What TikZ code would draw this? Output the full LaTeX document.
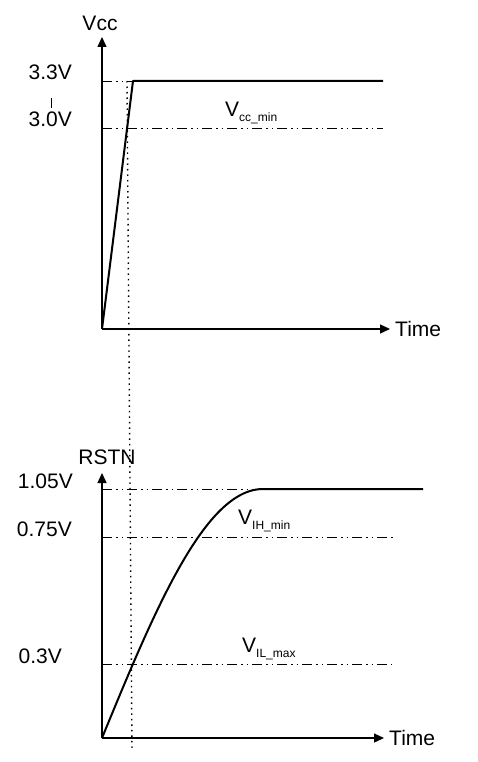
\documentclass[tikz,border=0pt]{standalone}
\usepackage{fontspec}
\setmainfont{Liberation Sans}
\usetikzlibrary{
	arrows.meta,
	positioning,
	calc
}

\begin{document}
\begin{tikzpicture}[x=1pt, y=-1pt,
  nivel/.style={line width=0.9pt,
    dash pattern=on 10pt off 4pt on 1.5pt off 4pt on 1.5pt off 4pt},
  eje/.style={-{Triangle[length=10pt,width=9pt]}, line width=1.3pt},
  senal/.style={line width=2pt, line join=round},
  guia/.style={line width=1.4pt, dash pattern=on 1.5pt off 4pt},
  rotulo/.style={inner sep=0pt, font=\fontsize{21}{24}\selectfont},
  umbral/.style={rotulo, anchor=base west}
]
\useasboundingbox (0,0) rectangle (477,762);

% Vcc
\coordinate (o1) at (102,329);
\coordinate (y1) at (102,37);
\coordinate (x1) at (390,329);
\foreach \y/\xf/\texto/\xl in {
  81/383/3.3V/72,
  128/383/3.0V/72,
  489/383/1.05V/73,
  537/393/0.75V/72,
  664/392/0.3V/62}
{
  \draw[nivel] (102,\y) -- (\xf,\y);
  \node[rotulo, anchor=base east] (lv\y) at (\xl,\y-1) {\texto};
}
\draw (51,98) -- (51,108);
\draw[senal] (o1) -- (133,81) -- (383,81);
\draw[eje] (o1) -- (y1);
\draw[eje] (o1) -- (x1);
\node[rotulo, above=6pt of y1, xshift=-2pt] (vcc) {Vcc};
\node[rotulo, right=5pt of x1] (t1) {Time};
\node[umbral] (vccmin) at (225,117) {V\raisebox{-5pt}{\fontsize{12}{13}\selectfont cc\_min}};

% RSTN
\coordinate (o2) at (102,738);
\coordinate (y2) at (102,473);
\coordinate (x2) at (384,738);
\draw[senal] plot[domain=0:1, samples=50, smooth]
  ({102+161*\x},{738-249*sin(90*\x)}) -- (423,489);
\draw[eje] (o2) -- (y2);
\draw[eje] (o2) -- (x2);
\node[rotulo, above=8pt of y2, xshift=5pt] (rstn) {RSTN};
\node[rotulo, right=5pt of x2] (t2) {Time};
\node[umbral] (vihmin) at (238,524) {V\raisebox{-5pt}{\fontsize{12}{13}\selectfont IH\_min}};
\node[umbral] (vilmax) at (242,652) {V\raisebox{-5pt}{\fontsize{12}{13}\selectfont IL\_max}};

\draw[guia] (127,81) -- (132,750);
\end{tikzpicture}
\end{document}
